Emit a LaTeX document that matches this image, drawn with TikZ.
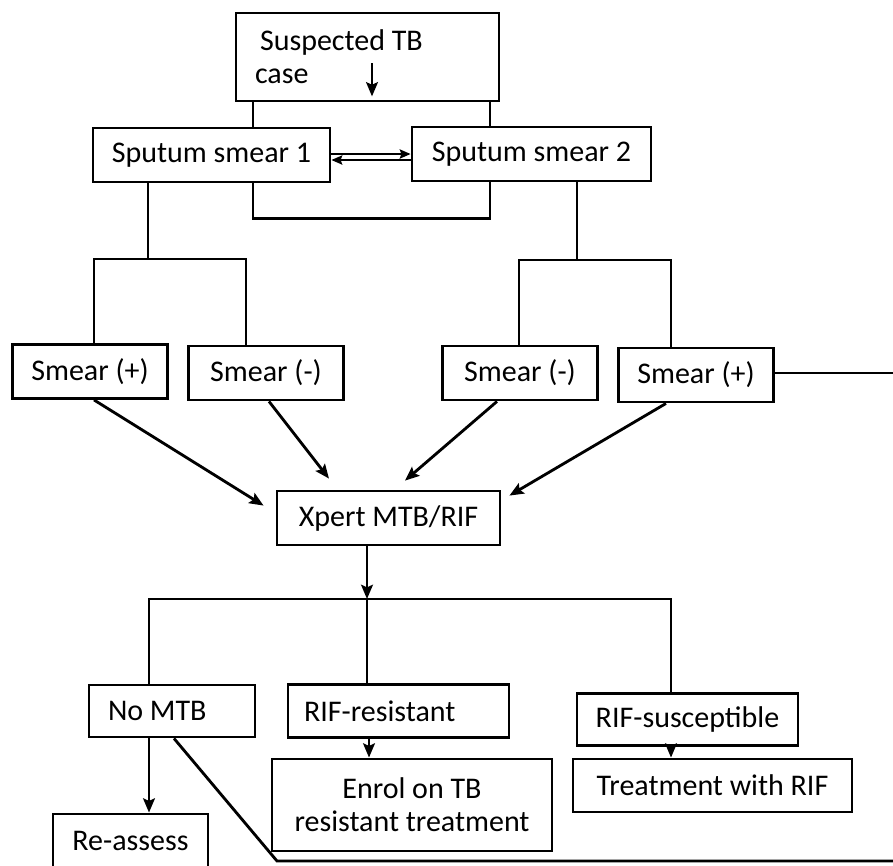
\documentclass[tikz,border=0pt]{standalone}
\usepackage{fontspec}
\setmainfont{Carlito}
\usetikzlibrary{arrows.meta}
\tikzset{
    box/.style={draw, line width=1.7pt, inner sep=0pt, font=\fontsize{18}{21}\selectfont},
    smear/.style={box, minimum width=93pt, minimum height=32.4pt},
    result/.style={box, minimum width=132.6pt, minimum height=31.5pt},
}
\begin{document}
\begin{tikzpicture}[x=0.6pt, y=-0.6pt, line width=1.7pt, >={Stealth[length=8.5pt, width=7pt, inset=1.5pt]}]
        \clip (0,0) rectangle (893,865);
        \draw   (367.5,57) node [box, align=flush left, text width=135pt, inner xsep=11.4pt, minimum height=52.8pt] (case) {\hspace{3pt}Suspected TB\\[-1pt]case}
                (211.5,155) node [box, minimum width=142.2pt, minimum height=32.4pt] (sp1) {Sputum smear 1}
                (531.5,154) node [box, minimum width=143.4pt, minimum height=32.4pt] (sp2) {Sputum smear 2}
                (90,371.5) node [smear] (smp1) {Smear (+)}
                (266,373) node [smear] (smm1) {Smear (-)}
                (520,373) node [smear] (smm2) {Smear (-)}
                (696,375) node [smear] (smp2) {Smear (+)}
                (388.5,518) node [box, minimum width=133.8pt, minimum height=32.4pt] (xpert) {Xpert MTB/RIF}
                (172,711) node [box, align=flush left, text width=76.8pt, inner xsep=11.4pt, minimum height=31.2pt] (nomtb) {No MTB}
                (398.5,711) node [result, align=flush left, text width=113.4pt, inner xsep=9.6pt] (rifr) {RIF-resistant}
                (687.5,719.5) node [result] (rifs) {RIF-susceptible}
                (412,805) node [box, align=center, minimum width=168pt, minimum height=55.2pt] (enrol) {Enrol on TB\\[-1pt]resistant treatment}
                (712.5,785.5) node [box, minimum width=167.4pt, minimum height=31.8pt] (treat) {Treatment with RIF}
                (130.5,841) node [smear] (reass) {Re-assess}
                ;
        % joints and loose ends
        \coordinate (jl) at (148,259);
        \coordinate (jr) at (577,260);
        \coordinate (jb) at (367,599);
        \coordinate (rout) at (893,373);
        \coordinate (bend) at (277,861);
        \coordinate (bout) at (893,861);
        % top part
        \draw[->] ([shift={(4.5,6)}]case.center) -- ([shift={(4.5,-6)}]case.south);
        \draw (case.south -| 253,0) -- (sp1.north -| 253,0);
        \draw (case.south -| 490,0) -- (sp2.north -| 490,0);
        \draw[line width=1.3pt, >={Stealth[length=6.5pt, width=5.5pt, inset=1pt]}]
                (sp1.east |- 0,154) edge [->] (sp2.west |- 0,154)
                (sp2.west |- 0,160) edge [->] (sp1.east |- 0,160);
        \draw (sp1.south -| 253,0) -- ++(0,35) -| (sp2.south -| 490,0);
        % smear branches
        \draw (sp1.south -| jl) -- (jl);
        \draw (smp1.north -| 94,0) |- (jl) -| (smm1.north -| 246,0);
        \draw (sp2.south -| jr) -- (jr);
        \draw (smm2.north -| 519,0) |- (jr) -| (smp2.north -| 671,0);
        \draw (smp2.east |- rout) -- (rout);
        \draw   (smp1.south -| 94,0) edge [->] ([shift={(-12,16)}]xpert.north west)
                (smm1.south -| 269,0) edge [->] ([shift={(-59.5,-11)}]xpert.north)
                (smm2.south -| 497,0) edge [->] ([shift={(16.5,-9)}]xpert.north)
                (smp2.south -| 666,0) edge [->] ([shift={(8,6)}]xpert.north east);
        % results
        \draw[->] (xpert.south -| jb) -- (jb);
        \draw (nomtb.north -| 149,0) |- (jb) -| (rifs.north -| 671,0);
        \draw (jb) -- (rifr.north -| jb);
        \draw   (rifr.south -| 369,0) edge [->] (enrol.north -| 369,0)
                (rifs.south -| 671,0) edge [->] (treat.north -| 671,0)
                (nomtb.south -| 149,0) edge [->] (reass.north -| 149,0);
        \draw (nomtb.south -| 174,0) -- (bend) -- (bout);
    \end{tikzpicture}
\end{document}
